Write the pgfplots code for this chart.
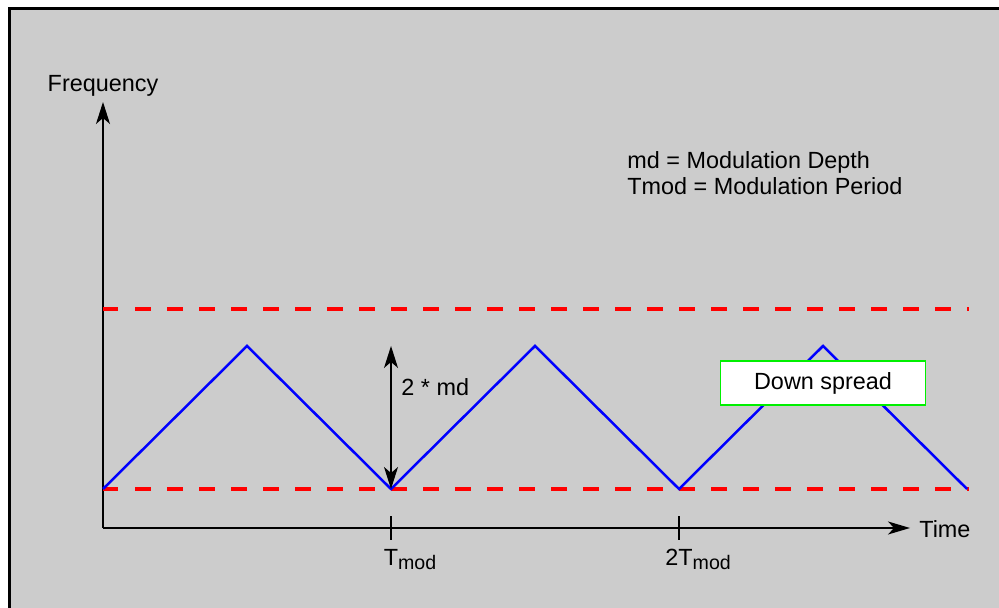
\documentclass[border=0pt]{standalone}
\usepackage{fontspec}
\setmainfont{Liberation Sans}
\usepackage{pgfplots}
\pgfplotsset{compat=1.18}
\usetikzlibrary{arrows.meta}
\definecolor{bggray}{RGB}{204,204,204}
\definecolor{wavblue}{RGB}{0,0,255}
\definecolor{limred}{RGB}{255,0,0}
\definecolor{boxgreen}{RGB}{0,240,0}

% subscript that takes no width, so the main letters stay centred on the tick
\newcommand{\sub}[1]{\rlap{\raisebox{-2pt}{\fontsize{9.8}{11}\selectfont #1}}}

\begin{document}
\begin{tikzpicture}[font=\fontsize{11.7}{14}\selectfont]
\fill[white] (-51.5pt,-40pt) rectangle (448pt,264pt);
\fill[bggray] (-47.5pt,-40pt) rectangle (448pt,260pt);
\draw[line width=1.5pt] (-46.75pt,-40pt) -- (-46.75pt,259.5pt) -- (448pt,259.5pt);
\begin{axis}[
  at={(0pt,0pt)}, anchor=south west,
  scale only axis, width=403.5pt, height=213pt,
  xmin=0, xmax=2.802, ymin=-0.2727, ymax=2.706,
  axis lines=left,
  axis line style={black, line width=0.8pt},
  x axis line style={-{Stealth[length=11pt,width=6.5pt,inset=3pt]}},
  y axis line style={-{Stealth[length=11pt,width=7pt,inset=3pt]}},
  xtick={1,2}, xticklabels={,,}, ytick=\empty,
  tick align=center, major tick length=12pt,
  tick style={black, line width=0.8pt},
  clip=false,
]
% limits
\addplot[limred, line width=1.7pt, dash pattern=on 7.75pt off 8.25pt] coordinates {(0,1.2587) (3.007,1.2587)};
\addplot[limred, line width=1.7pt, dash pattern=on 7.75pt off 8.25pt] coordinates {(0,0) (3.007,0)};
% triangular modulation
\addplot[wavblue, line width=1.25pt] coordinates {(0,0) (0.5,1) (1,0) (1.5,1) (2,0) (2.5,1) (3,0)};

\draw[{Stealth[length=11pt,width=7pt,inset=3pt]}-{Stealth[length=11pt,width=7pt,inset=3pt]}, line width=0.6pt]
  (axis cs:1,0) -- (axis cs:1,1);
\node[anchor=base west, inner sep=0pt] at (axis cs:1.0347,0.657) {2 * md};

\node[anchor=base, inner sep=0pt] at (axis cs:0,2.776) {Frequency};
\node[anchor=base west, inner sep=0pt] at (axis cs:2.833,-0.3357) {Time};
\node[anchor=base, inner sep=0pt] at (axis cs:1,-0.5315) {T\sub{mod}};
\node[anchor=base, inner sep=0pt] at (axis cs:2,-0.5315) {2T\sub{mod}};

\node[anchor=base west, inner sep=0pt] at (axis cs:1.8194,2.2378) {md = Modulation Depth};
\node[anchor=base west, inner sep=0pt] at (axis cs:1.8194,2.056) {Tmod = Modulation Period};

\node[fill=white, draw=boxgreen, line width=0.7pt, minimum width=102.5pt, minimum height=22pt, inner sep=0pt]
  at (axis cs:2.5,0.741) {Down spread};
\end{axis}
\pgfresetboundingbox
\path (-51.5pt,-40pt) rectangle (448pt,264pt);
\end{tikzpicture}
\end{document}
